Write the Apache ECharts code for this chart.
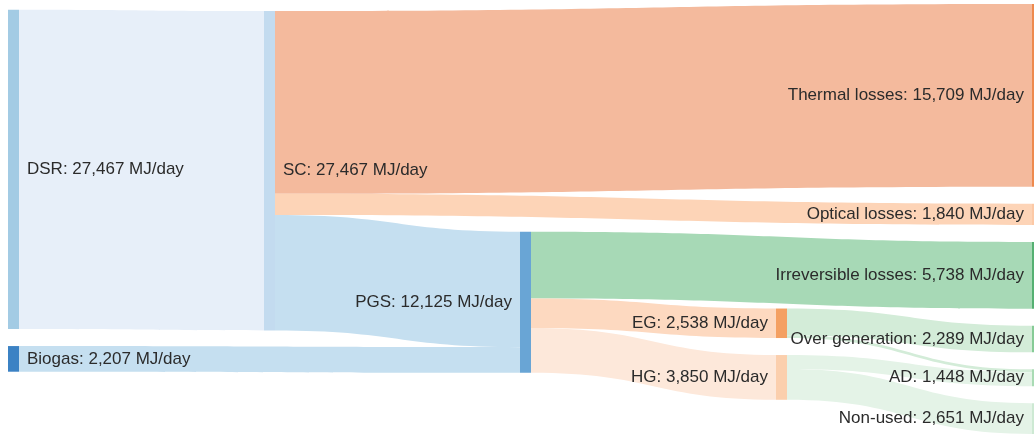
<!DOCTYPE html>
<html>
<head>
<meta charset="utf-8">
<script src="https://cdn.jsdelivr.net/npm/echarts@6/dist/echarts.min.js"></script>
<style>
  html, body { margin: 0; padding: 0; background: #ffffff; }
  #chart { width: 1034px; height: 438px; }
</style>
</head>
<body>
<div id="chart"></div>
<script>
// Energy flows of the plant, MJ/day
const nodeNames = ['DSR', 'Biogas', 'SC', 'Thermal losses', 'Optical losses', 'PGS',
  'Irreversible losses', 'EG', 'HG', 'Over generation', 'AD', 'Non-used'];
const nodeValues = [27467, 2207, 27467, 15709, 1840, 12125,
  5738, 2538, 3850, 2289, 1448, 2651];

const linkSources = ['DSR', 'SC', 'SC', 'SC', 'Biogas', 'PGS', 'PGS', 'PGS', 'EG', 'EG', 'HG', 'HG'];
const linkTargets = ['SC', 'Thermal losses', 'Optical losses', 'PGS', 'PGS',
  'Irreversible losses', 'EG', 'HG', 'Over generation', 'AD', 'AD', 'Non-used'];
const linkValues = [27467, 15709, 1840, 9918, 2207, 5738, 2538, 3850, 2289, 249, 1199, 2651];

const unit = 'MJ/day';

// Styling
const nodeColor = {
  'DSR': '#a3cbe4', 'Biogas': '#3b82c4', 'SC': '#c3dbef', 'PGS': '#69a5d5',
  'EG': '#f4a062', 'HG': '#fbcfad', 'Thermal losses': '#ee8a4e',
  'Optical losses': '#fcc9a6', 'Irreversible losses': '#55b072',
  'Over generation': '#86cb96', 'AD': '#a9dbb4', 'Non-used': '#cde9d3'
};
const linkColor = ['#e7eff9', '#f4ba9d', '#fdd4b7', '#c5dff0', '#c5dff0',
  '#a7d9b6', '#fdd9c0', '#fde8da', '#d3ecd8', '#d3ecd8', '#e4f3e7', '#e4f3e7'];
const labelRight = ['DSR', 'SC', 'Biogas'];

// Geometry of the drawing area
const CHART_W = 1034, CHART_H = 438;
const LEFT = 8, RIGHT = -9, TOP = 4;
const EXTENT = 430;      // vertical room used by the nodes
const GAP = 17;          // space between nodes of one column
const NODE_W = 11;
const ITERATIONS = 96;

const sumBy = (arr, f) => arr.reduce((s, d) => s + f(d), 0);

// Node placement: sinks are justified to the last column and every node is
// relaxed towards the level run of all its links (in and out), keeping the
// listed order inside each column.
function placeNodes() {
  const N = nodeNames.map((name, i) => ({ name, index: i, sourceLinks: [], targetLinks: [] }));
  const byName = Object.fromEntries(N.map(n => [n.name, n]));
  const L = linkValues.map((v, i) => ({
    index: i, value: v, source: byName[linkSources[i]], target: byName[linkTargets[i]]
  }));
  L.forEach(l => { l.source.sourceLinks.push(l); l.target.targetLinks.push(l); });
  N.forEach(n => {
    n.value = Math.max(sumBy(n.sourceLinks, l => l.value), sumBy(n.targetLinks, l => l.value));
  });

  let current = N.slice(), depth = 0;
  while (current.length) {
    const next = new Set();
    current.forEach(n => { n.depth = depth; n.sourceLinks.forEach(l => next.add(l.target)); });
    current = [...next];
    depth++;
  }
  const nLayers = depth;
  N.forEach(n => { n.layer = n.sourceLinks.length ? n.depth : nLayers - 1; });

  const groupBy = key => {
    const cols = [];
    N.forEach(n => (cols[n[key]] = cols[n[key]] || []).push(n));
    return cols.filter(Boolean);
  };
  const columns = groupBy('layer');
  const ky = Math.min(...columns.map(c => (EXTENT - (c.length - 1) * GAP) / sumBy(c, n => n.value)));
  L.forEach(l => { l.width = l.value * ky; });
  N.forEach(n => { n.dy = n.value * ky; });

  columns.forEach(col => {
    let y = 0;
    col.forEach(n => { n.y0 = y; y += n.dy + GAP; });
    const extra = (EXTENT - y + GAP) / (col.length + 1);
    col.forEach((n, i) => { n.y0 += extra * (i + 1); });
  });

  const sortLinks = () => N.forEach(n => {
    n.sourceLinks.sort((a, b) => (a.target.y0 - b.target.y0) || (a.index - b.index));
    n.targetLinks.sort((a, b) => (a.source.y0 - b.source.y0) || (a.index - b.index));
  });
  sortLinks();
  const offOut = (n, link) => { let o = 0; for (const l of n.sourceLinks) { if (l === link) break; o += l.width; } return o; };
  const offIn = (n, link) => { let o = 0; for (const l of n.targetLinks) { if (l === link) break; o += l.width; } return o; };

  const pushDown = (col, y, i, a) => {
    for (; i < col.length; ++i) {
      const n = col[i], d = (y - n.y0) * a;
      if (d > 1e-6) n.y0 += d;
      y = n.y0 + n.dy + GAP;
    }
  };
  const pushUp = (col, y, i, a) => {
    for (; i >= 0; --i) {
      const n = col[i], d = (n.y0 + n.dy - y) * a;
      if (d > 1e-6) n.y0 -= d;
      y = n.y0 - GAP;
    }
  };
  const resolve = (col, a) => {
    const i = col.length >> 1, s = col[i];
    pushUp(col, s.y0 - GAP, i - 1, a);
    pushDown(col, s.y0 + s.dy + GAP, i + 1, a);
    pushUp(col, EXTENT, col.length - 1, a);
    pushDown(col, 0, 0, a);
  };

  for (let it = 0; it < ITERATIONS; ++it) {
    const alpha = Math.pow(0.99, it);
    const beta = Math.max(1 - alpha, (it + 1) / ITERATIONS);
    columns.forEach(col => {
      col.forEach(n => {
        let y = 0, w = 0;
        n.sourceLinks.forEach(l => {
          y += (l.target.y0 + offIn(l.target, l) - offOut(n, l)) * l.value;
          w += l.value;
        });
        n.targetLinks.forEach(l => {
          y += (l.source.y0 + offOut(l.source, l) - offIn(n, l)) * l.value;
          w += l.value;
        });
        if (w > 0) n.y0 += (y / w - n.y0) * alpha;
      });
      sortLinks();
      resolve(col, beta);
    });
  }

  // Height of the sankey box so that the library's left-aligned columns use the same scale.
  const depthCols = groupBy('depth');
  const boxH = Math.max(...depthCols.map(c => ky * sumBy(c, n => n.value) + (c.length - 1) * GAP));
  const boxW = CHART_W - LEFT - RIGHT;
  const kx = (boxW - NODE_W) / (nLayers - 1);
  return {
    boxH: boxH,
    pos: N.map(n => ({ localX: n.layer * kx / boxW, localY: n.y0 / boxH }))
  };
}

const placement = placeNodes();
const fmt = v => v.toLocaleString('en-US');

const nodes = nodeNames.map((name, i) => ({
  name: name,
  value: nodeValues[i],
  localX: placement.pos[i].localX,
  localY: placement.pos[i].localY,
  itemStyle: { color: nodeColor[name] },
  label: { position: labelRight.includes(name) ? 'right' : 'left' }
}));

const links = linkValues.map((v, i) => ({
  source: linkSources[i],
  target: linkTargets[i],
  value: v,
  lineStyle: { color: linkColor[i], opacity: 1 }
}));

const chart = echarts.init(document.getElementById('chart'), null, { renderer: 'canvas' });
chart.setOption({
  backgroundColor: '#ffffff',
  animation: false,
  series: [{
    type: 'sankey',
    left: LEFT,
    right: RIGHT,
    top: TOP,
    bottom: CHART_H - TOP - placement.boxH,
    nodeWidth: NODE_W,
    nodeGap: GAP,
    nodeAlign: 'left',
    layoutIterations: 0,
    draggable: false,
    emphasis: { disabled: true },
    data: nodes,
    links: links,
    itemStyle: { borderWidth: 0 },
    lineStyle: { curveness: 0.5, opacity: 1 },
    label: {
      show: true,
      distance: 8,
      fontFamily: '"Liberation Sans", Arial, sans-serif',
      fontSize: 17,
      color: '#2b2b2b',
      formatter: p => p.name + ': ' + fmt(p.value) + ' ' + unit
    }
  }]
});
</script>
</body>
</html>
